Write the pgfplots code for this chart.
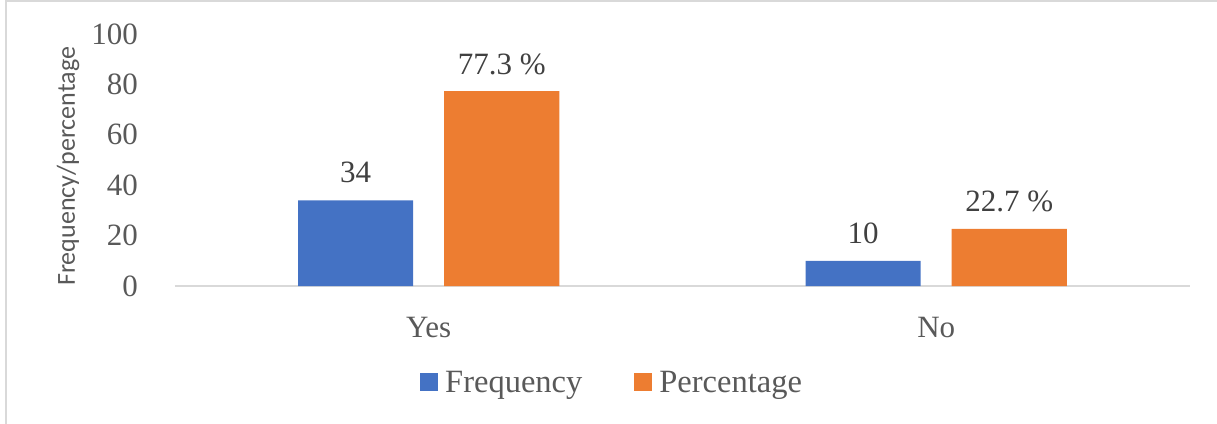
\documentclass[border=0pt]{standalone}
\usepackage{pgfplots}
\pgfplotsset{compat=1.18}
\usepackage{fontspec}
\setmainfont{Liberation Serif}
\newfontfamily\calibri{Carlito}
\definecolor{fblue}{HTML}{4472C4}
\definecolor{forange}{HTML}{ED7D31}
\definecolor{linegray}{HTML}{D9D9D9}
\definecolor{tickgray}{HTML}{595959}
\definecolor{labelgray}{HTML}{404040}
\newcommand{\bigfont}{\fontsize{31}{37}\selectfont}
\begin{document}
\begin{tikzpicture}
  \begin{axis}[
      scale only axis, width=1015pt, height=252pt,
      xmin=-0.5, xmax=1.5, ymin=0, ymax=100,
      axis x line=bottom, axis y line=left,
      x axis line style={draw=linegray, line width=1.5pt, -},
      y axis line style={draw=none},
      xtick={0,1}, xticklabels={Yes,No},
      ytick={0,20,...,100},
      major tick length=0pt,
      /pgf/number format/assume math mode=true,
      tick label style={font=\bigfont, text=tickgray},
      xticklabel style={anchor=base, inner sep=0pt, yshift=-51pt},
      yticklabel style={anchor=east, inner sep=0pt, xshift=-37pt},
      ylabel={Frequency/percentage},
      every axis y label/.style={at={(rel axis cs:-0.1054,0.475)}, rotate=90, anchor=center,
        font=\calibri\fontsize{26}{31}\selectfont, text=tickgray},
      ybar, bar width=115pt,
      legend style={at={(0.4306,0)}, anchor=center, yshift=-97pt, draw=none,
        font=\fontsize{32.5}{38}\selectfont, text=tickgray, legend columns=2,
        /tikz/every odd column/.append style={column sep=5pt},
        /tikz/every even column/.append style={column sep=50pt}},
    ]
    \addplot[fill=fblue, draw=none, bar shift=-73pt,
      legend image code/.code={\fill[fblue] (0pt,-8pt) rectangle (18pt,10pt);},
      nodes near coords,
      nodes near coords style={font=\bigfont, text=labelgray, anchor=south, inner sep=0pt, yshift=17pt},
      /pgf/number format/assume math mode=true]
      coordinates {(0,34) (1,10)};
    \addplot[fill=forange, draw=none, bar shift=73pt,
      legend image code/.code={\fill[forange] (0pt,-8pt) rectangle (18pt,10pt);},
      point meta=explicit symbolic, nodes near coords,
      nodes near coords style={font=\bigfont, text=labelgray, anchor=south, inner sep=0pt, yshift=16.5pt}]
      coordinates {(0,77.3) [77.3 \%] (1,22.7) [22.7 \%]};
    \legend{Frequency, Percentage}
  \end{axis}
  \draw[linegray, line width=2pt] (-168.5pt,-150pt) -- (-168.5pt,284.5pt) -- (1050pt,284.5pt);
  \pgfresetboundingbox
  \useasboundingbox (-175pt,-137pt) rectangle (1042pt,286pt);
\end{tikzpicture}
\end{document}
